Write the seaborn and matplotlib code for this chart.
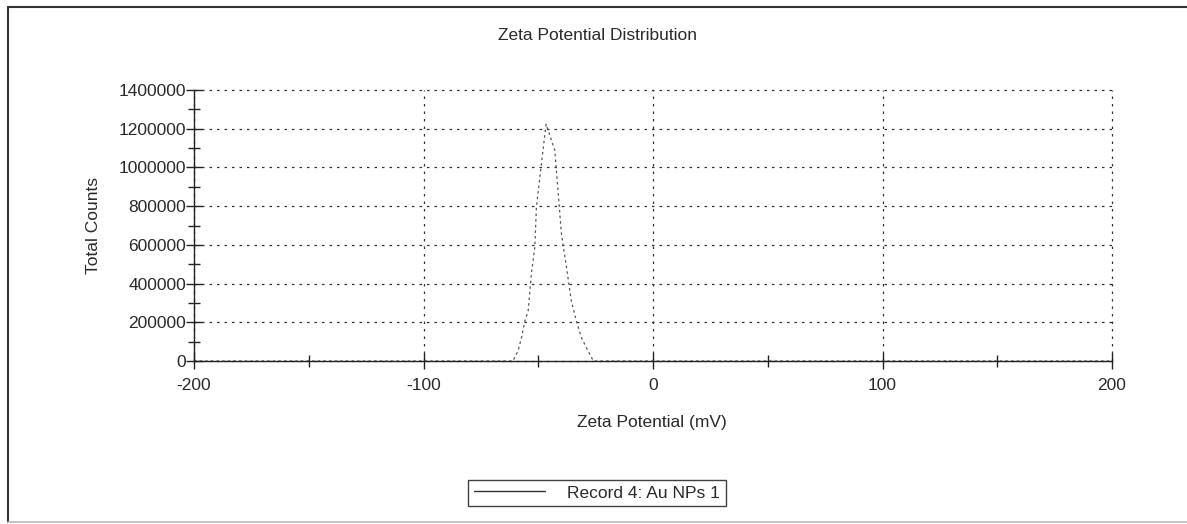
import matplotlib
matplotlib.use("Agg")
import matplotlib.pyplot as plt
import seaborn as sns
import pandas as pd
import numpy as np
from matplotlib.ticker import MultipleLocator, FuncFormatter
from matplotlib.lines import Line2D

# Data
zeta_mv = [-200, -61, -58.8, -57.3, -55.8, -54.4, -53.0, -51.5, -50.8, -48.6, -46.6,
           -42.8, -41.3, -39.9, -37.7, -35.6, -33.4, -31.2, -28.3, -26, 200]
total_counts = [0, 0, 52000, 121000, 207000, 259000, 451000, 587000, 795000, 1020000, 1224000,
                1089000, 866000, 658000, 484000, 311000, 207000, 121000, 52000, 0, 0]
series_name = "Record 4: Au NPs 1"
title_text = "Zeta Potential Distribution"
x_label = "Zeta Potential (mV)"
y_label = "Total Counts"

df = pd.DataFrame({x_label: zeta_mv, y_label: total_counts,
                   "Record": [series_name] * len(zeta_mv)})

sns.set_theme(style="white")
plt.rcParams["font.family"] = ["Liberation Sans", "DejaVu Sans"]

FS = 12.5
TXT = "#2a2a2a"

fig = plt.figure(figsize=(11.87, 5.24), dpi=100)
ax = fig.add_axes([194/1187, 1 - 361/524, (1112-194)/1187, 271/524])

sns.lineplot(data=df, x=x_label, y=y_label, hue="Record",
             palette=["#555555"], linewidth=0.9, ax=ax, legend=True)
line = ax.get_lines()[0]
line.set_linestyle((0, (2, 2.5)))

ax.set_xlim(-200, 200)
ax.set_ylim(0, 1400000)
ax.xaxis.set_major_locator(MultipleLocator(100))
ax.xaxis.set_minor_locator(MultipleLocator(50))
ax.yaxis.set_major_locator(MultipleLocator(200000))
ax.yaxis.set_minor_locator(MultipleLocator(100000))
ax.yaxis.set_major_formatter(FuncFormatter(lambda v, p: f"{int(round(v))}"))
ax.xaxis.set_major_formatter(FuncFormatter(lambda v, p: f"{int(round(v))}"))

ax.grid(True, which="major", linestyle=(0, (2, 4)), color="#333333", linewidth=0.9)
for gl in ax.get_xgridlines() + ax.get_ygridlines():
    gl.set_clip_on(False)
for s in ["top", "right"]:
    ax.spines[s].set_visible(False)
for s in ["left", "bottom"]:
    ax.spines[s].set_color("#222222")
    ax.spines[s].set_linewidth(1.0)

ax.tick_params(axis="both", which="major", direction="inout", length=11, width=1.0,
               color="#222222", labelsize=FS, labelcolor=TXT, left=True, bottom=True)
ax.tick_params(axis="both", which="minor", direction="inout", length=9, width=1.0,
               color="#222222", left=True, bottom=True)
ax.tick_params(axis="y", which="major", pad=0)
ax.tick_params(axis="x", which="major", pad=7)

ax.set_xlabel("")
ax.set_ylabel("")
fig.text(652/1187, 1 - 423/524, x_label, fontsize=FS, color=TXT, ha="center", va="center")
fig.text(93/1187, 1 - 225/524, y_label, fontsize=FS, color=TXT, ha="center", va="center",
         rotation=90)
fig.text(598/1187, 1 - 35/524, title_text, fontsize=FS, color=TXT, ha="center", va="center")

leg = ax.legend(loc="center", bbox_to_anchor=(597/1187, 1 - 493/524),
                bbox_transform=fig.transFigure, frameon=True, fancybox=False,
                fontsize=FS, handlelength=4.1, borderpad=0.3, handletextpad=1.3,
                borderaxespad=0)
leg.get_frame().set_edgecolor("#111111")
leg.get_frame().set_linewidth(1.0)
for h in leg.get_lines():
    h.set_linestyle("-")
    h.set_color("#333333")
    h.set_linewidth(1.0)
for t in leg.get_texts():
    t.set_color(TXT)

# outer frame: left and top dark, bottom light
fig.add_artist(Line2D([8/1187, 8/1187], [1 - 522/524, 1 - 7/524], transform=fig.transFigure,
                      color="#333333", linewidth=1.5))
fig.add_artist(Line2D([8/1187, 1.0], [1 - 7/524, 1 - 7/524], transform=fig.transFigure,
                      color="#333333", linewidth=1.5))
fig.add_artist(Line2D([8/1187, 1.0], [1 - 522/524, 1 - 522/524], transform=fig.transFigure,
                      color="#bbbbbb", linewidth=1.2))

fig.savefig("out.png", dpi=100, facecolor="white")
